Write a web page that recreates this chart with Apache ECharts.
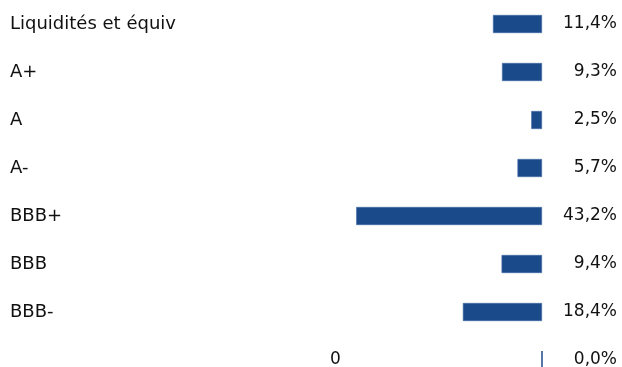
<!DOCTYPE html>
<html>
<head>
<meta charset="utf-8">
<script src="https://cdn.jsdelivr.net/npm/echarts@6/dist/echarts.min.js"></script>
<style>
  html, body { margin: 0; padding: 0; background: #fff; }
  #myChart { width: 622px; height: 367px; }
</style>
</head>
<body>
<div id="myChart"></div>
<script>
// categories top to bottom
var categories = ['Liquidités et équiv', 'A+', 'A', 'A-', 'BBB+', 'BBB', 'BBB-', '0'];
var values = [11.4, 9.3, 2.5, 5.7, 43.2, 9.4, 18.4, 0.0];
var valueLabels = values.map(function (v) { return v.toFixed(1).replace('.', ',') + '%'; });

var chartDom = document.getElementById('myChart');
var myChart = echarts.init(chartDom);
var font = '"DejaVu Sans", sans-serif';
var barColor = '#1b4a8b';

var option = {
    animation: false,
    grid: { left: 327, right: 80, top: 0, height: 384, outerBoundsMode: 'none', containLabel: false },
    xAxis: {
        type: 'value',
        inverse: true,
        min: 0,
        max: 50,
        show: false
    },
    yAxis: [
        {
            type: 'category',
            inverse: true,
            data: categories,
            axisLine: { show: false },
            axisTick: { show: false },
            axisLabel: {
                align: 'left',
                margin: 317,
                color: '#111',
                fontSize: 18,
                fontFamily: font,
                formatter: function (v, i) {
                    return i === categories.length - 1 ? '{z|' + v + '}' : v;
                },
                rich: {
                    z: { padding: [0, 0, 0, 320], fontSize: 17, fontFamily: font, color: '#111' }
                }
            }
        },
        {
            type: 'category',
            inverse: true,
            position: 'right',
            data: valueLabels,
            axisLine: { show: false },
            axisTick: { show: false },
            axisLabel: {
                align: 'right',
                margin: 75,
                color: '#111',
                fontSize: 17,
                fontFamily: font
            }
        }
    ],
    series: [
        {
            type: 'bar',
            data: values.map(function (v) {
                return v === 0 ? { value: v, itemStyle: { borderWidth: 1, borderColor: barColor } } : v;
            }),
            barWidth: 18,
            itemStyle: {
                color: barColor,
                borderColor: '#3d68a3',
                borderWidth: 0.6
            }
        }
    ]
};

option && myChart.setOption(option);
</script>
</body>
</html>
